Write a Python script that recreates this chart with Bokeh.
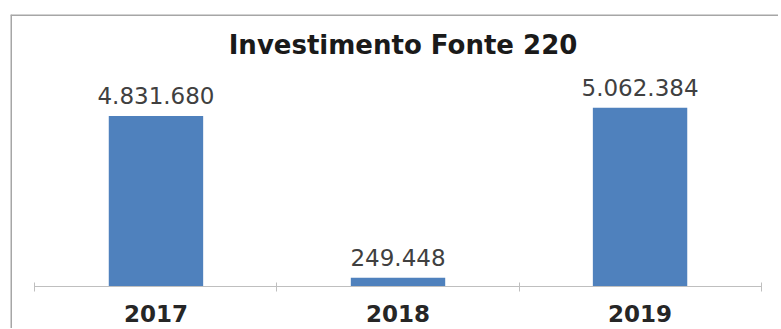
from bokeh.plotting import figure
from bokeh.models import ColumnDataSource, Range1d, LinearAxis, FixedTicker, Label, Span
from bokeh.core.properties import value
from bokeh.embed import file_html
from bokeh.resources import INLINE

# ---- data ----
years = ["2017", "2018", "2019"]
investimento = [4831680, 249448, 5062384]
chart_title = "Investimento Fonte 220"

# ---- derived ----
xpos = [i + 0.5 for i in range(len(years))]
labels = [f"{v:,}".replace(",", ".") for v in investimento]
src = ColumnDataSource(dict(x=xpos, top=investimento, label=labels))

n = len(years)
x_start, x_end = -0.101, n + 0.072
y_start, y_end = -1.19e6, 7.705e6
p = figure(width=778, height=328, output_backend="svg", toolbar_location=None,
           x_range=Range1d(x_start, x_end), y_range=Range1d(y_start, y_end),
           x_axis_location=None, y_axis_location=None,
           min_border_left=10, min_border_top=14, min_border_right=0, min_border_bottom=0,
           background_fill_color="white", border_fill_color="white")
p.grid.visible = False
p.outline_line_color = None

# chart-area border (left and top visible in the reference)
p.add_layout(Span(location=x_start, dimension="height", line_color="#a6a6a6", line_width=3))
p.add_layout(Span(location=y_end, dimension="width", line_color="#a6a6a6", line_width=3))

p.vbar(x="x", top="top", bottom=0, width=0.39, source=src,
       fill_color="#4f81bd", line_color=None)

p.text(x="x", y="top", text="label", source=src, y_offset=-20,
       text_align="center", text_baseline="alphabetic",
       text_font=value("DejaVu Sans"), text_font_size="23px", text_color="#404040")

axis = LinearAxis(fixed_location=0, bounds=(0, n),
                  ticker=FixedTicker(ticks=xpos, minor_ticks=list(range(n + 1))),
                  major_label_overrides={x: y for x, y in zip(xpos, years)})
axis.axis_line_color = "#bfbfbf"
axis.axis_line_width = 1
axis.major_tick_line_color = None
axis.major_tick_in = 0
axis.major_tick_out = 0
axis.minor_tick_line_color = "#bfbfbf"
axis.minor_tick_in = 4
axis.minor_tick_out = 5
axis.major_label_standoff = 14
axis.major_label_text_font = "DejaVu Sans"
axis.major_label_text_font_style = "bold"
axis.major_label_text_font_size = "23px"
axis.major_label_text_color = "#262626"
p.add_layout(axis, "below")

title = Label(x=n / 2, y=6.855e6, x_offset=5, text=chart_title, text_align="center",
              text_baseline="middle", text_font="DejaVu Sans", text_font_style="bold",
              text_font_size="26px", text_color="#1a1a1a")
p.add_layout(title)

open("out.html", "w").write(file_html(p, INLINE))
